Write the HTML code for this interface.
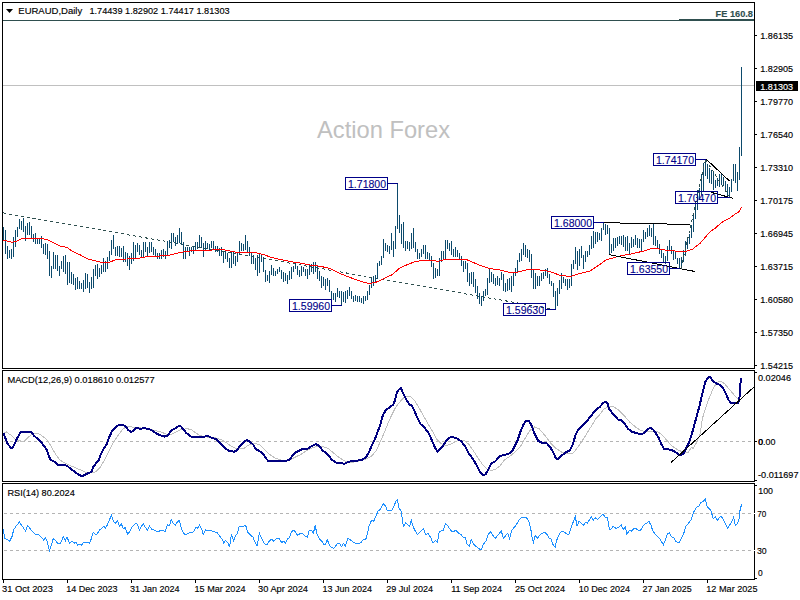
<!DOCTYPE html><html><head><meta charset="utf-8"><style>
html,body{margin:0;padding:0;background:#fff;width:800px;height:600px;overflow:hidden}
svg{display:block} text{font-family:"Liberation Sans", sans-serif;}
</style></head><body>
<svg width="800" height="600" viewBox="0 0 800 600" shape-rendering="crispEdges">
<rect x="0" y="0" width="800" height="600" fill="#fff"/>
<text x="317" y="138" font-size="24" fill="#c0c0c0" textLength="133" lengthAdjust="spacingAndGlyphs">Action Forex</text>
<rect x="3" y="20" width="751" height="1" fill="#2f4f4f"/>
<rect x="679" y="19" width="75" height="2" fill="#2f4f4f"/>
<rect x="3" y="85" width="751" height="1" fill="#c0c0c0"/>
<line x1="3" y1="212.9" x2="555" y2="309.5" stroke="#2f4f4f" stroke-width="1" stroke-dasharray="3,3" shape-rendering="crispEdges"/>
<path d="M3.5 227V241M5.5 230V254M7.5 246V259M9.5 250V258M11.5 249V259M13.5 237V257M15.5 230V247M17.5 227V237M19.5 219V229M21.5 221V230M23.5 218V232M25.5 226V241M27.5 223V235M29.5 222V235M31.5 226V239M33.5 234V242M35.5 233V244M37.5 238V244M39.5 239V244M41.5 236V248M43.5 244V254M45.5 243V255M47.5 244V259M49.5 251V276M51.5 266V278M53.5 252V269M55.5 255V269M57.5 255V271M59.5 266V276M61.5 261V269M63.5 256V272M65.5 255V274M67.5 262V285M69.5 262V283M71.5 272V284M73.5 274V285M75.5 278V290M77.5 277V289M79.5 281V289M81.5 283V289M83.5 280V292M85.5 273V289M87.5 274V288M89.5 282V293M91.5 277V289M93.5 269V288M95.5 265V276M97.5 264V279M99.5 268V277M101.5 265V274M103.5 258V272M105.5 261V272M107.5 257V269M109.5 251V261M111.5 240V255M113.5 235V249M115.5 247V256M117.5 246V256M119.5 246V257M121.5 248V257M123.5 246V262M125.5 252V262M127.5 253V266M129.5 256V270M131.5 253V264M133.5 242V261M135.5 245V258M137.5 243V252M139.5 245V255M141.5 250V257M143.5 242V258M145.5 242V252M147.5 247V257M149.5 242V253M151.5 242V252M153.5 247V255M155.5 249V256M157.5 253V259M159.5 253V259M161.5 250V259M163.5 249V257M165.5 251V259M167.5 241V256M169.5 240V248M171.5 233V249M173.5 233V242M175.5 237V246M177.5 235V244M179.5 228V243M181.5 232V245M183.5 242V259M185.5 247V259M187.5 247V252M189.5 247V256M191.5 247V252M193.5 246V254M195.5 242V250M197.5 242V249M199.5 235V247M201.5 237V248M203.5 243V257M205.5 241V251M207.5 243V249M209.5 244V250M211.5 241V248M213.5 241V249M215.5 246V252M217.5 246V252M219.5 248V256M221.5 247V256M223.5 252V263M225.5 251V259M227.5 253V262M229.5 258V268M231.5 252V268M233.5 252V264M235.5 256V266M237.5 252V262M239.5 241V255M241.5 243V251M243.5 244V251M245.5 235V250M247.5 241V252M249.5 247V256M251.5 253V264M253.5 255V264M255.5 258V270M257.5 255V276M259.5 254V273M261.5 255V262M263.5 257V272M265.5 270V282M267.5 275V281M269.5 271V283M271.5 265V275M273.5 268V276M275.5 271V276M277.5 269V274M279.5 267V272M281.5 270V279M283.5 272V282M285.5 273V281M287.5 275V284M289.5 271V280M291.5 267V279M293.5 266V272M295.5 263V269M297.5 266V275M299.5 270V277M301.5 266V276M303.5 267V272M305.5 269V276M307.5 269V279M309.5 265V275M311.5 264V272M313.5 262V274M315.5 262V272M317.5 266V279M319.5 271V281M321.5 276V288M323.5 277V286M325.5 279V290M327.5 278V286M329.5 280V292M331.5 291V299M333.5 293V300M335.5 293V302M337.5 288V297M339.5 291V298M341.5 291V305M343.5 292V302M345.5 291V303M347.5 290V299M349.5 287V296M351.5 291V299M353.5 296V302M355.5 295V301M357.5 296V302M359.5 296V302M361.5 298V303M363.5 296V304M365.5 296V301M367.5 291V300M369.5 285V295M371.5 278V288M373.5 276V286M375.5 275V282M377.5 263V279M379.5 261V266M381.5 256V265M383.5 239V258M385.5 243V251M387.5 245V252M389.5 246V254M391.5 233V250M393.5 241V257M395.5 226V249M397.5 183V229M399.5 215V233M401.5 224V244M403.5 222V248M405.5 241V251M407.5 241V249M409.5 242V251M411.5 233V249M413.5 228V248M415.5 242V252M417.5 249V259M419.5 253V259M421.5 249V257M423.5 245V254M425.5 245V259M427.5 252V259M429.5 253V260M431.5 256V267M433.5 263V279M435.5 268V278M437.5 269V276M439.5 258V276M441.5 251V262M443.5 251V259M445.5 240V259M447.5 240V249M449.5 243V251M451.5 241V255M453.5 249V257M455.5 247V257M457.5 250V257M459.5 253V259M461.5 256V266M463.5 261V272M465.5 261V269M467.5 263V282M469.5 273V286M471.5 272V284M473.5 272V287M475.5 279V293M477.5 286V299M479.5 293V304M481.5 296V306M483.5 291V301M485.5 289V296M487.5 278V295M489.5 269V283M491.5 272V282M493.5 274V284M495.5 278V286M497.5 276V285M499.5 278V286M501.5 272V280M503.5 274V291M505.5 283V292M507.5 279V291M509.5 278V290M511.5 276V292M513.5 272V286M515.5 268V276M517.5 260V272M519.5 253V262M521.5 249V261M523.5 243V255M525.5 245V257M527.5 249V258M529.5 250V262M531.5 254V278M533.5 270V289M535.5 273V289M537.5 276V286M539.5 276V286M541.5 273V281M543.5 272V279M545.5 269V276M547.5 268V278M549.5 274V284M551.5 281V286M553.5 283V297M555.5 291V309M557.5 288V306M559.5 280V294M561.5 273V289M563.5 277V283M565.5 279V286M567.5 279V290M569.5 279V288M571.5 264V286M573.5 260V269M575.5 247V264M577.5 251V270M579.5 249V266M581.5 246V258M583.5 255V269M585.5 251V262M587.5 251V257M589.5 245V255M591.5 236V249M593.5 231V248M595.5 232V244M597.5 232V242M599.5 233V240M601.5 228V241M603.5 222V230M605.5 224V235M607.5 225V234M609.5 228V254M611.5 244V253M613.5 238V251M615.5 238V248M617.5 237V246M619.5 236V244M621.5 236V245M623.5 235V247M625.5 237V251M627.5 236V251M629.5 243V255M631.5 237V248M633.5 239V247M635.5 235V245M637.5 238V248M639.5 239V248M641.5 239V252M643.5 230V242M645.5 232V239M647.5 228V237M649.5 225V236M651.5 228V237M653.5 224V245M655.5 236V246M657.5 240V248M659.5 244V254M661.5 250V258M663.5 253V262M665.5 256V264M667.5 246V261M669.5 240V251M671.5 246V254M673.5 250V260M675.5 251V259M677.5 258V264M679.5 258V268M681.5 257V267M683.5 250V262M685.5 241V256M687.5 237V249M689.5 234V244M691.5 225V238M693.5 214V232M695.5 201V219M697.5 190V210M699.5 188V200M701.5 174V195M703.5 163V191M705.5 159V176M707.5 164V179M709.5 168V183M711.5 170V184M713.5 172V190M715.5 180V188M717.5 178V186M719.5 174V187M721.5 174V185M723.5 177V186M725.5 181V190M727.5 184V196M729.5 187V197M731.5 179V192M733.5 164V181M735.5 164V183M737.5 172V191M739.5 147V180M741.5 67V156" stroke="#0c4a6c" stroke-width="1" fill="none"/>
<polyline points="3.0,240.5 7.0,241.0 12.0,242.3 17.0,241.0 21.0,239.0 28.0,238.5 40.0,238.5 47.0,239.5 52.0,242.0 60.0,246.0 67.0,247.5 72.0,251.0 80.0,254.8 88.0,259.0 96.0,261.0 100.0,262.0 105.0,262.5 110.0,262.0 115.0,260.0 120.0,259.4 135.0,258.5 140.0,258.0 150.0,256.0 160.0,256.0 170.0,255.0 180.0,252.5 190.0,251.0 200.0,250.4 210.0,250.5 215.0,249.0 225.0,250.0 235.0,252.0 240.0,252.0 255.0,252.5 265.0,255.0 270.0,257.0 280.0,259.4 290.0,261.5 300.0,263.0 310.0,265.0 320.0,266.2 330.0,268.5 340.0,273.5 346.0,276.0 355.0,279.3 364.0,282.3 369.0,283.5 376.0,282.3 383.5,278.7 392.5,274.5 400.0,267.8 406.0,265.2 413.5,262.2 422.5,260.2 431.5,260.2 437.5,261.3 445.0,259.5 460.0,259.0 465.0,259.0 470.0,261.0 480.0,265.5 490.0,268.5 500.0,270.0 510.0,272.5 515.0,273.0 520.0,271.5 530.0,269.0 540.0,270.0 550.0,271.5 560.0,275.3 570.0,276.5 580.0,273.5 590.0,271.0 600.0,264.4 606.0,260.0 612.5,258.1 618.8,256.2 625.0,255.0 631.0,254.0 637.5,252.5 643.8,251.0 650.0,249.0 655.0,248.1 659.0,249.0 665.0,250.0 671.0,250.6 677.5,251.2 686.0,251.2 692.5,249.4 696.2,246.2 700.0,243.5 703.3,239.6 708.3,233.8 710.8,231.2 715.0,228.3 720.8,223.3 725.0,220.4 730.0,217.9 735.0,214.2 738.3,212.5 740.0,210.0 741.7,207.1" fill="none" stroke="#ff0000" stroke-width="1" shape-rendering="crispEdges"/>
<g stroke="#000" stroke-width="1" shape-rendering="crispEdges" fill="none">
<line x1="596" y1="222.5" x2="690" y2="224.5"/>
<line x1="609" y1="254.6" x2="695" y2="271.5"/>
<line x1="706" y1="159" x2="729.5" y2="181"/>
<line x1="711" y1="192.3" x2="733" y2="198.3"/>
</g>
<g stroke="#2f4f4f" stroke-width="1" stroke-dasharray="3,3" shape-rendering="crispEdges" fill="none">
<line x1="681" y1="268.7" x2="705.5" y2="159.5"/>
<line x1="705.5" y1="159.5" x2="729.5" y2="197"/>
</g>
<rect x="345.5" y="177.5" width="42" height="12" fill="none" stroke="#000088" stroke-width="1"/>
<text x="348.00" y="187.7" font-size="11" fill="#000088" textLength="38.05" lengthAdjust="spacingAndGlyphs" stroke="#000088" stroke-width="0.1">1.71800</text>
<polyline points="387.0,183.5 397.5,183.5" fill="none" stroke="#000088" stroke-width="1"/>
<rect x="289.5" y="299.5" width="42" height="12" fill="none" stroke="#000088" stroke-width="1"/>
<text x="292.00" y="309.7" font-size="11" fill="#000088" textLength="38.05" lengthAdjust="spacingAndGlyphs" stroke="#000088" stroke-width="0.1">1.59960</text>
<polyline points="331.0,305.5 341.5,305.5" fill="none" stroke="#000088" stroke-width="1"/>
<rect x="503.5" y="303.5" width="42" height="12" fill="none" stroke="#000088" stroke-width="1"/>
<text x="506.00" y="313.7" font-size="11" fill="#000088" textLength="38.05" lengthAdjust="spacingAndGlyphs" stroke="#000088" stroke-width="0.1">1.59630</text>
<polyline points="545.0,309.5 555.5,309.5" fill="none" stroke="#000088" stroke-width="1"/>
<rect x="551.5" y="216.5" width="42" height="12" fill="none" stroke="#000088" stroke-width="1"/>
<text x="554.00" y="226.7" font-size="11" fill="#000088" textLength="38.05" lengthAdjust="spacingAndGlyphs" stroke="#000088" stroke-width="0.1">1.68000</text>
<polyline points="593.0,222.5 603.5,222.5" fill="none" stroke="#000088" stroke-width="1"/>
<rect x="627.5" y="262.5" width="42" height="12" fill="none" stroke="#000088" stroke-width="1"/>
<text x="630.00" y="272.7" font-size="11" fill="#000088" textLength="38.05" lengthAdjust="spacingAndGlyphs" stroke="#000088" stroke-width="0.1">1.63550</text>
<polyline points="669.0,268.5 680.0,268.5" fill="none" stroke="#000088" stroke-width="1"/>
<rect x="653.5" y="153.5" width="42" height="12" fill="none" stroke="#000088" stroke-width="1"/>
<text x="656.00" y="163.7" font-size="11" fill="#000088" textLength="38.05" lengthAdjust="spacingAndGlyphs" stroke="#000088" stroke-width="0.1">1.74170</text>
<polyline points="695.0,159.5 705.5,159.5" fill="none" stroke="#000088" stroke-width="1"/>
<rect x="675.5" y="191.5" width="42" height="12" fill="none" stroke="#000088" stroke-width="1"/>
<text x="678.00" y="201.7" font-size="11" fill="#000088" textLength="38.05" lengthAdjust="spacingAndGlyphs" stroke="#000088" stroke-width="0.1">1.70470</text>
<polyline points="717.0,197.5 729.5,197.5" fill="none" stroke="#000088" stroke-width="1"/>
<path d="M6 9H13L9.5 13Z" fill="#000" shape-rendering="auto"/>
<text x="18.30" y="14" font-size="9.7" fill="#000" textLength="63.93" lengthAdjust="spacingAndGlyphs"  stroke="#000" stroke-width="0.15">EURAUD,Daily</text>
<text x="89.40" y="14" font-size="9.7" fill="#000" textLength="140.21" lengthAdjust="spacingAndGlyphs"  stroke="#000" stroke-width="0.15">1.74439 1.82902 1.74417 1.81303</text>
<text x="715.60" y="17" font-size="9.7" fill="#2f4f4f" textLength="37.38" lengthAdjust="spacingAndGlyphs" font-weight="bold" stroke="#2f4f4f" stroke-width="0.15">FE 160.8</text>
<g fill="none" stroke="#000" stroke-width="1">
<rect x="2.5" y="2.5" width="752" height="366"/>
<rect x="2.5" y="370.5" width="752" height="111"/>
<rect x="2.5" y="483.5" width="752" height="96"/>
</g>
<rect x="755" y="35" width="2" height="1" fill="#000"/>
<text x="760.30" y="39" font-size="9.7" fill="#000" textLength="32.74" lengthAdjust="spacingAndGlyphs"  stroke="#000" stroke-width="0.15">1.86135</text>
<rect x="755" y="68" width="2" height="1" fill="#000"/>
<text x="760.30" y="72" font-size="9.7" fill="#000" textLength="32.74" lengthAdjust="spacingAndGlyphs"  stroke="#000" stroke-width="0.15">1.82905</text>
<rect x="755" y="101" width="2" height="1" fill="#000"/>
<text x="760.30" y="105" font-size="9.7" fill="#000" textLength="32.74" lengthAdjust="spacingAndGlyphs"  stroke="#000" stroke-width="0.15">1.79770</text>
<rect x="755" y="134" width="2" height="1" fill="#000"/>
<text x="760.30" y="138" font-size="9.7" fill="#000" textLength="32.74" lengthAdjust="spacingAndGlyphs"  stroke="#000" stroke-width="0.15">1.76540</text>
<rect x="755" y="167" width="2" height="1" fill="#000"/>
<text x="760.30" y="171" font-size="9.7" fill="#000" textLength="32.74" lengthAdjust="spacingAndGlyphs"  stroke="#000" stroke-width="0.15">1.73310</text>
<rect x="755" y="200" width="2" height="1" fill="#000"/>
<text x="760.30" y="204" font-size="9.7" fill="#000" textLength="32.74" lengthAdjust="spacingAndGlyphs"  stroke="#000" stroke-width="0.15">1.70175</text>
<rect x="755" y="233" width="2" height="1" fill="#000"/>
<text x="760.30" y="237" font-size="9.7" fill="#000" textLength="32.74" lengthAdjust="spacingAndGlyphs"  stroke="#000" stroke-width="0.15">1.66945</text>
<rect x="755" y="266" width="2" height="1" fill="#000"/>
<text x="760.30" y="270" font-size="9.7" fill="#000" textLength="32.74" lengthAdjust="spacingAndGlyphs"  stroke="#000" stroke-width="0.15">1.63715</text>
<rect x="755" y="299" width="2" height="1" fill="#000"/>
<text x="760.30" y="303" font-size="9.7" fill="#000" textLength="32.74" lengthAdjust="spacingAndGlyphs"  stroke="#000" stroke-width="0.15">1.60580</text>
<rect x="755" y="332" width="2" height="1" fill="#000"/>
<text x="760.30" y="336" font-size="9.7" fill="#000" textLength="32.74" lengthAdjust="spacingAndGlyphs"  stroke="#000" stroke-width="0.15">1.57350</text>
<rect x="755" y="365" width="2" height="1" fill="#000"/>
<text x="760.30" y="369" font-size="9.7" fill="#000" textLength="32.74" lengthAdjust="spacingAndGlyphs"  stroke="#000" stroke-width="0.15">1.54215</text>
<rect x="756" y="81" width="42" height="10" fill="#000"/>
<text x="760.30" y="89.5" font-size="9.7" fill="#fff" textLength="32.74" lengthAdjust="spacingAndGlyphs"  stroke="#fff" stroke-width="0.15">1.81303</text>
<text x="7.40" y="383" font-size="9.7" fill="#000" textLength="147.33" lengthAdjust="spacingAndGlyphs"  stroke="#000" stroke-width="0.15">MACD(12,26,9) 0.018610 0.012577</text>
<line x1="4" y1="441.5" x2="754" y2="441.5" stroke="#b4b4b4" stroke-dasharray="3,3"/>
<polyline points="3.4,433.4 6.5,432.0 11.2,435.3 16.8,440.5 20.5,441.0 24.3,441.0 28.0,437.5 31.7,434.4 36.4,433.4 40.1,434.4 44.8,438.0 48.5,441.8 52.2,448.4 56.0,455.0 59.7,459.6 63.4,462.4 69.0,465.0 74.6,467.4 80.2,469.8 85.8,472.2 90.5,472.6 94.2,472.6 97.0,470.7 100.0,467.5 103.7,461.4 107.5,454.0 111.2,446.5 114.9,440.0 118.7,434.4 122.4,429.7 126.1,426.9 131.7,426.9 137.3,427.8 144.8,428.2 152.2,429.7 159.7,431.6 167.2,434.4 170.9,434.4 176.5,431.6 182.1,429.3 187.7,428.8 191.4,429.7 195.1,432.5 200.0,435.5 207.5,437.2 214.9,437.5 220.5,439.4 226.1,442.4 231.7,446.5 237.3,449.3 243.8,448.4 249.4,444.6 255.0,443.7 259.7,444.6 264.4,449.3 269.0,454.0 274.6,457.7 280.2,459.9 285.8,460.5 291.4,459.2 297.0,456.2 300.0,455.2 305.6,451.2 311.2,448.4 316.8,446.5 322.4,446.5 328.0,448.4 333.6,453.0 339.2,457.7 344.8,461.0 350.4,462.4 356.0,461.8 361.6,460.5 367.2,458.6 371.8,455.8 376.5,450.2 380.2,441.8 384.0,433.4 387.7,424.1 391.4,415.7 395.1,408.2 400.0,401.7 403.7,397.6 407.5,396.1 411.2,397.0 414.9,400.8 418.7,407.3 422.4,413.8 426.1,420.4 429.9,426.9 433.6,433.4 437.3,440.0 441.0,443.7 445.7,445.6 450.4,444.3 455.0,441.8 459.7,440.0 464.4,440.5 469.0,444.6 473.7,451.2 478.4,458.6 483.0,465.1 486.8,468.9 491.4,470.4 496.1,468.9 500.0,466.0 504.7,459.6 509.3,456.8 514.9,452.1 520.5,446.5 525.2,438.1 529.9,430.6 534.5,426.9 539.2,428.8 544.8,435.3 550.4,442.8 556.0,448.4 561.6,452.1 567.2,453.6 571.8,454.0 575.6,450.2 580.2,443.7 585.8,435.3 591.4,426.0 596.1,418.5 600.0,414.3 603.7,409.2 608.4,406.4 613.1,406.4 618.7,410.1 624.3,415.7 629.9,422.2 635.4,426.9 641.0,430.6 646.6,431.9 652.2,431.2 657.8,431.6 662.5,435.3 667.2,440.9 672.8,446.5 678.4,450.2 684.0,452.3 688.6,452.1 691.2,447.4 693.3,448.4 697.0,441.8 700.0,434.4 702.4,418.5 708.0,400.8 713.6,387.7 717.3,382.1 721.0,381.2 724.8,384.0 730.4,390.5 735.0,396.1 738.8,399.9 740.6,398.9" fill="none" stroke="#c0c0c0" stroke-width="1" shape-rendering="crispEdges"/>
<polyline points="3.4,433.4 7.5,443.7 11.2,448.0 13.0,447.4 16.8,439.0 20.5,432.5 23.3,432.0 27.0,432.0 30.8,431.6 34.5,436.2 39.2,440.0 43.8,445.6 46.6,449.3 48.5,455.0 50.4,459.6 54.0,461.4 57.8,465.0 61.6,465.0 64.4,465.0 67.2,466.0 71.0,468.9 74.6,471.7 78.4,474.5 81.2,476.0 84.0,475.4 87.7,473.5 91.4,471.7 93.3,467.0 96.0,463.3 99.0,459.6 100.0,455.8 102.8,450.2 106.5,444.6 109.3,437.2 112.1,430.6 114.9,427.8 118.7,425.0 122.4,425.0 125.2,426.0 128.0,429.7 130.8,432.0 133.6,430.6 136.4,427.8 140.1,428.8 144.8,428.2 149.4,429.3 153.2,431.2 156.9,433.8 160.6,435.3 164.4,436.6 168.1,435.3 170.9,430.6 174.6,428.8 177.4,426.9 180.2,425.6 183.0,428.8 185.8,432.5 189.6,435.7 193.3,437.5 197.0,436.8 200.0,436.5 203.7,436.6 208.4,436.2 212.1,438.1 215.9,439.0 218.7,441.8 222.4,445.6 226.1,448.9 229.9,451.2 234.5,451.7 237.3,449.9 240.1,445.6 243.8,441.8 246.6,440.0 249.4,441.3 253.2,444.6 256.0,449.3 259.7,451.2 262.5,453.0 265.3,457.3 268.1,460.9 272.8,461.0 277.4,460.9 282.1,460.5 285.8,461.0 289.6,459.6 292.4,455.8 296.1,452.1 300.0,450.2 303.7,448.7 307.5,448.7 311.2,446.5 315.9,444.1 318.7,445.6 322.4,450.2 326.1,453.0 328.9,455.8 331.7,459.6 335.4,462.4 340.1,463.3 344.8,463.7 348.5,461.8 353.2,460.9 357.8,460.5 362.5,459.6 366.2,456.8 369.0,452.1 371.8,445.6 374.6,440.0 377.4,432.5 380.2,425.0 383.0,414.8 385.8,410.1 389.6,407.3 393.3,404.5 395.1,399.9 397.0,392.4 398.9,389.6 400.9,388.3 403.7,394.3 406.5,399.9 409.3,404.5 412.1,405.8 414.9,412.0 417.7,418.5 420.5,424.1 423.3,426.0 426.1,429.7 428.9,433.4 431.7,440.0 434.5,446.5 437.3,451.7 440.1,449.3 443.8,444.6 447.6,439.0 450.4,437.2 454.1,437.5 457.8,438.7 461.6,441.8 465.3,446.5 469.0,454.0 472.8,458.6 476.5,465.1 479.3,470.7 482.1,474.5 485.4,474.5 488.6,468.9 491.4,463.3 495.1,461.4 500.0,456.3 503.7,454.9 508.4,454.0 512.1,451.2 514.9,445.6 517.7,440.0 520.5,431.6 523.3,425.0 526.1,420.7 528.9,420.7 531.7,426.0 534.5,433.4 538.2,440.9 542.0,442.8 546.6,443.1 550.4,447.4 553.2,452.1 556.0,458.6 558.8,458.6 562.5,454.9 566.2,452.1 570.0,450.2 572.8,444.6 575.6,434.4 578.4,429.7 582.1,425.6 585.8,422.6 589.6,417.6 593.3,412.9 597.0,408.8 600.0,406.8 602.8,403.2 605.6,401.7 607.5,403.6 609.3,409.2 612.1,412.9 614.9,415.7 617.7,419.4 621.5,420.4 624.3,423.2 628.0,428.8 631.7,431.6 636.4,433.1 640.1,434.0 643.8,433.4 647.6,429.3 650.4,427.8 653.2,429.7 656.0,433.4 658.8,438.1 661.6,444.6 664.4,449.3 668.1,449.3 671.8,450.2 675.6,452.1 679.3,454.9 683.0,454.3 685.6,449.3 688.4,443.7 691.2,436.2 694.0,426.0 696.8,415.7 699.6,405.4 702.4,393.3 705.2,382.1 708.0,377.5 710.2,377.1 712.6,380.8 716.4,383.4 720.1,384.9 722.9,387.7 725.7,393.3 728.5,399.9 731.3,403.2 735.0,403.2 737.8,403.2 739.3,399.9 740.1,388.7 740.8,378.4" fill="none" stroke="#000080" stroke-width="2" stroke-linejoin="round" shape-rendering="crispEdges"/>
<line x1="671" y1="462.5" x2="754" y2="387" stroke="#000" stroke-width="1" shape-rendering="crispEdges"/>
<rect x="755" y="372" width="2" height="1" fill="#000"/>
<text x="758.00" y="381" font-size="9.7" fill="#000" textLength="33.04" lengthAdjust="spacingAndGlyphs"  stroke="#000" stroke-width="0.15">0.02046</text>
<rect x="755" y="441" width="2" height="1" fill="#000"/>
<text x="758.00" y="445" font-size="9.7" fill="#000" textLength="17.37" lengthAdjust="spacingAndGlyphs"  stroke="#000" stroke-width="0.15">0.00</text>
<text x="758.60" y="445" font-size="9.7" fill="#000" textLength="4.57" lengthAdjust="spacingAndGlyphs"  stroke="#000" stroke-width="0.15">0</text>
<text x="758.00" y="477.5" font-size="9.7" fill="#000" textLength="40.49" lengthAdjust="spacingAndGlyphs"  stroke="#000" stroke-width="0.15">-0.011697</text>
<rect x="755" y="480" width="2" height="1" fill="#000"/>
<text x="7.50" y="496" font-size="9.7" fill="#000" textLength="67.23" lengthAdjust="spacingAndGlyphs"  stroke="#000" stroke-width="0.15">RSI(14) 80.2024</text>
<line x1="4" y1="513.5" x2="754" y2="513.5" stroke="#b4b4b4" stroke-dasharray="3,3"/>
<line x1="4" y1="550.5" x2="754" y2="550.5" stroke="#b4b4b4" stroke-dasharray="3,3"/>
<polyline points="3.2,529.0 4.8,538.7 7.3,539.5 9.7,541.2 12.1,536.3 13.7,529.8 16.2,525.8 19.4,522.1 22.6,526.6 25.5,531.1 27.5,525.3 29.9,528.2 32.3,531.5 34.7,533.9 38.0,534.4 41.2,537.1 43.6,539.9 45.6,537.6 47.7,543.1 49.4,551.2 51.4,545.2 53.3,538.4 55.7,540.8 57.8,543.6 60.6,543.1 63.3,536.6 65.4,540.8 67.0,537.1 69.5,543.1 71.9,541.5 74.3,543.1 75.9,542.5 77.9,545.2 80.0,544.1 81.6,545.2 83.6,542.5 85.7,542.8 87.8,542.5 89.7,543.1 91.3,538.7 93.2,532.3 95.3,534.4 97.0,534.4 99.4,530.2 101.8,528.2 103.9,526.3 105.5,528.2 107.5,524.7 109.4,519.8 111.5,515.3 113.6,521.4 115.5,523.1 117.5,520.5 119.6,526.3 121.2,523.4 123.3,529.0 125.2,527.4 127.7,534.4 130.1,531.1 132.5,526.3 134.9,524.2 136.9,523.4 139.5,530.2 141.4,526.6 143.3,523.4 145.4,527.4 147.5,530.2 149.5,525.8 151.4,529.0 154.3,530.2 157.5,531.8 160.0,530.8 163.2,530.2 165.2,531.8 167.3,524.7 169.4,525.8 171.3,519.3 173.2,523.4 175.3,525.0 177.4,521.8 179.4,520.5 181.8,529.8 185.0,535.0 187.5,533.9 189.9,532.3 192.3,532.8 193.9,531.1 195.9,527.4 198.0,528.2 199.6,525.3 201.7,529.0 203.3,534.4 205.6,529.8 207.7,530.7 210.1,530.2 213.3,531.8 216.9,532.3 219.8,536.3 222.2,539.5 223.8,543.1 225.4,540.4 227.9,542.8 229.5,547.3 231.4,534.4 233.5,540.8 235.6,535.5 237.5,533.1 239.2,526.6 240.0,526.3 243.2,526.6 245.7,525.3 247.3,531.5 249.7,534.4 252.9,537.1 254.9,542.0 257.0,546.0 259.4,533.4 261.8,538.7 264.2,543.6 267.1,544.7 269.1,541.2 271.5,539.2 273.9,541.2 276.3,538.7 279.1,538.3 281.7,542.5 283.6,541.2 285.6,543.1 287.7,538.3 289.3,537.9 291.7,531.5 294.1,530.2 297.4,535.0 300.6,533.4 303.0,533.9 305.4,536.3 307.5,537.1 309.1,530.7 311.1,530.2 313.5,533.1 315.1,525.3 317.2,535.0 320.0,539.5 321.9,541.5 324.0,544.4 325.7,544.1 327.3,539.5 329.4,545.2 331.6,547.3 333.7,548.4 335.8,545.7 337.8,543.1 339.7,543.6 341.3,546.8 343.4,543.6 345.4,546.0 347.8,538.3 349.9,539.5 352.3,541.5 355.5,543.1 358.8,543.6 361.2,542.5 363.3,539.2 365.6,539.9 367.2,534.7 368.8,526.6 371.4,520.5 373.6,521.4 375.7,516.9 377.8,511.3 380.1,509.7 383.0,503.7 385.4,505.6 387.5,510.8 389.5,510.5 391.9,510.1 394.0,506.4 395.9,501.1 397.5,500.0 399.2,508.8 400.0,509.5 401.6,512.1 402.4,521.8 403.6,526.3 405.7,523.1 407.8,524.7 409.7,526.3 411.3,520.5 413.2,527.0 415.3,531.1 417.4,534.4 420.2,531.8 423.4,528.6 425.5,534.4 428.3,533.4 430.7,537.6 433.1,543.1 435.5,540.4 437.5,542.0 439.1,532.3 441.2,530.7 443.3,530.2 445.6,523.4 448.1,526.3 450.9,530.7 453.3,531.8 455.7,530.2 458.2,532.8 461.1,534.7 463.3,537.6 465.4,537.1 467.0,544.4 469.5,546.0 471.1,539.5 473.5,544.1 475.9,546.3 478.4,548.4 480.0,549.2 481.6,549.6 483.2,544.4 485.7,541.5 488.1,534.7 490.5,531.8 492.9,535.5 495.3,538.3 498.6,534.4 501.3,531.1 503.4,538.3 505.8,535.5 507.8,533.4 509.6,538.3 512.0,529.8 514.7,526.9 517.2,523.1 519.6,519.3 522.3,517.2 525.2,517.2 527.7,518.9 529.3,522.6 530.9,529.8 532.0,537.1 533.3,542.5 535.3,535.5 537.4,538.3 539.8,535.0 542.2,533.4 544.6,532.3 547.0,534.4 549.1,537.9 551.1,539.2 553.0,544.4 555.1,547.3 556.7,540.4 558.4,536.0 560.0,533.3 561.9,531.1 564.5,532.3 566.8,533.9 568.9,534.4 570.5,529.0 572.1,524.7 573.7,521.0 575.3,516.6 577.0,525.8 579.1,521.4 581.3,523.1 583.4,525.3 585.5,522.6 587.5,523.1 589.4,519.8 591.5,516.6 593.1,520.5 595.2,517.7 597.5,519.3 599.6,517.7 602.8,514.0 605.6,517.7 607.2,517.2 608.5,522.6 609.3,529.8 611.4,528.6 613.3,526.3 615.7,528.2 618.2,527.9 621.1,524.7 623.3,529.5 625.4,526.9 627.0,534.4 629.1,530.7 631.4,531.1 633.5,529.0 635.1,527.9 637.5,529.8 640.0,531.2 641.9,527.9 644.0,524.7 646.5,523.4 648.9,521.4 651.0,525.3 652.9,531.1 655.3,534.4 657.8,536.6 660.2,539.5 663.4,544.7 665.5,539.9 667.1,534.4 669.1,532.8 671.5,536.6 673.6,537.6 675.9,541.5 679.1,542.8 681.2,538.7 683.6,533.9 686.0,526.3 688.5,523.1 691.4,519.3 693.6,512.1 696.5,507.2 699.0,505.9 701.1,502.4 703.3,501.1 705.4,499.2 707.3,507.2 709.4,508.5 711.3,511.8 713.2,518.9 715.3,516.9 717.4,520.2 719.4,517.7 721.0,516.1 723.4,519.8 725.5,523.7 727.5,528.2 729.9,524.7 732.3,520.5 733.6,517.2 735.2,525.3 737.2,523.7 738.8,520.5 740.1,509.7 741.7,504.0" fill="none" stroke="#1e90ff" stroke-width="1" shape-rendering="crispEdges"/>
<text x="758.30" y="494" font-size="9.7" fill="#000" textLength="14.68" lengthAdjust="spacingAndGlyphs"  stroke="#000" stroke-width="0.15">100</text>
<text x="757.30" y="517" font-size="9.7" fill="#000" textLength="9.02" lengthAdjust="spacingAndGlyphs"  stroke="#000" stroke-width="0.15">70</text>
<text x="757.00" y="554" font-size="9.7" fill="#000" textLength="9.72" lengthAdjust="spacingAndGlyphs"  stroke="#000" stroke-width="0.15">30</text>
<text x="758.00" y="576" font-size="9.7" fill="#000" textLength="4.67" lengthAdjust="spacingAndGlyphs"  stroke="#000" stroke-width="0.15">0</text>
<rect x="755" y="485" width="2" height="1" fill="#000"/>
<rect x="754" y="513" width="1" height="1" fill="#fff"/>
<rect x="754" y="550" width="1" height="1" fill="#fff"/>
<rect x="755" y="578" width="2" height="1" fill="#000"/>
<rect x="3" y="580" width="1" height="3" fill="#000"/>
<text x="2.00" y="592" font-size="9.7" fill="#000" textLength="50.98" lengthAdjust="spacingAndGlyphs"  stroke="#000" stroke-width="0.15">31 Oct 2023</text>
<rect x="67" y="580" width="1" height="3" fill="#000"/>
<text x="66.25" y="592" font-size="9.7" fill="#000" textLength="51.25" lengthAdjust="spacingAndGlyphs"  stroke="#000" stroke-width="0.15">14 Dec 2023</text>
<rect x="131" y="580" width="1" height="3" fill="#000"/>
<text x="130.00" y="592" font-size="9.7" fill="#000" textLength="49.54" lengthAdjust="spacingAndGlyphs"  stroke="#000" stroke-width="0.15">31 Jan 2024</text>
<rect x="195" y="580" width="1" height="3" fill="#000"/>
<text x="194.50" y="592" font-size="9.7" fill="#000" textLength="51.04" lengthAdjust="spacingAndGlyphs"  stroke="#000" stroke-width="0.15">15 Mar 2024</text>
<rect x="259" y="580" width="1" height="3" fill="#000"/>
<text x="258.00" y="592" font-size="9.7" fill="#000" textLength="50.03" lengthAdjust="spacingAndGlyphs"  stroke="#000" stroke-width="0.15">30 Apr 2024</text>
<rect x="323" y="580" width="1" height="3" fill="#000"/>
<text x="322.50" y="592" font-size="9.7" fill="#000" textLength="49.54" lengthAdjust="spacingAndGlyphs"  stroke="#000" stroke-width="0.15">13 Jun 2024</text>
<rect x="387" y="580" width="1" height="3" fill="#000"/>
<text x="386.25" y="592" font-size="9.7" fill="#000" textLength="46.75" lengthAdjust="spacingAndGlyphs"  stroke="#000" stroke-width="0.15">29 Jul 2024</text>
<rect x="451" y="580" width="1" height="3" fill="#000"/>
<text x="451.25" y="592" font-size="9.7" fill="#000" textLength="50.72" lengthAdjust="spacingAndGlyphs"  stroke="#000" stroke-width="0.15">11 Sep 2024</text>
<rect x="515" y="580" width="1" height="3" fill="#000"/>
<text x="515.00" y="592" font-size="9.7" fill="#000" textLength="49.98" lengthAdjust="spacingAndGlyphs"  stroke="#000" stroke-width="0.15">25 Oct 2024</text>
<rect x="579" y="580" width="1" height="3" fill="#000"/>
<text x="578.75" y="592" font-size="9.7" fill="#000" textLength="51.25" lengthAdjust="spacingAndGlyphs"  stroke="#000" stroke-width="0.15">10 Dec 2024</text>
<rect x="643" y="580" width="1" height="3" fill="#000"/>
<text x="642.50" y="592" font-size="9.7" fill="#000" textLength="49.29" lengthAdjust="spacingAndGlyphs"  stroke="#000" stroke-width="0.15">27 Jan 2025</text>
<rect x="707" y="580" width="1" height="3" fill="#000"/>
<text x="706.25" y="592" font-size="9.7" fill="#000" textLength="51.29" lengthAdjust="spacingAndGlyphs"  stroke="#000" stroke-width="0.15">12 Mar 2025</text>
</svg></body></html>
